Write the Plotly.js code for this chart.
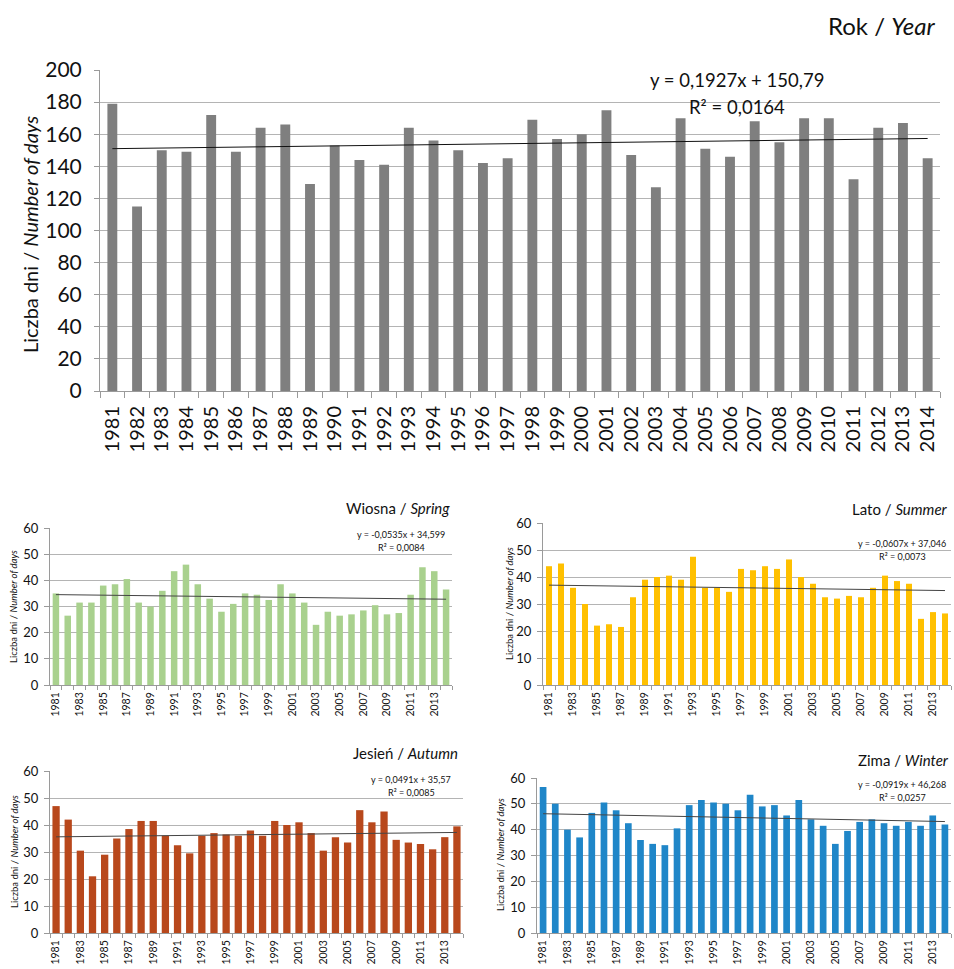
<!DOCTYPE html>
<html><head><meta charset="utf-8">
<script src="https://cdn.plot.ly/plotly-3.0.1.min.js"></script>
<style>html,body{margin:0;padding:0;background:#fff}#chart{width:954px;height:969px}</style>
</head><body><div id="chart"></div>
<script>
// ---------- DATA ----------
const years = [1981,1982,1983,1984,1985,1986,1987,1988,1989,1990,1991,1992,1993,1994,1995,1996,1997,
               1998,1999,2000,2001,2002,2003,2004,2005,2006,2007,2008,2009,2010,2011,2012,2013,2014];
const yearValues   = [179,115,150,149,172,149,164,166,129,153,144,141,164,156,150,142,145,
                      169,157,160,175,147,127,170,151,146,168,155,170,170,132,164,167,145];
const springValues = [35,26.5,31.5,31.5,38,38.5,40.5,31.5,30,36,43.5,46,38.5,33,28,31,35,
                      34.5,32.5,38.5,35,31.5,23,28,26.5,27,28.5,30.5,27,27.5,34.5,45,43.5,36.5];
const summerValues = [44,45,36,30,22,22.5,21.5,32.5,39,40,40.5,39,47.5,36,36,34.5,43,
                      42.5,44,43,46.5,40,37.5,32.5,32,33,32.5,36,40.5,38.5,37.5,24.5,27,26.5];
const autumnValues = [47,42,30.5,21,29,35,38.5,41.5,41.5,36,32.5,29.5,36,37,36.5,36,38,
                      36,41.5,40,41,37,30.5,35.5,33.5,45.5,41,45,34.5,33.5,33,31,35.5,39.5];
const winterValues = [56.5,50,40,37,46.5,50.5,47.5,42.5,36,34.5,34,40.5,49.5,51.5,50.5,50,47.5,
                      53.5,49,49.5,45.5,51.5,44,41.5,34.5,39.5,43,44,42.5,41.5,43,41.5,45.5,42];
const trendSlopes     = [0.1927, -0.0535, -0.0607, 0.0491, -0.0919];
const trendIntercepts = [150.79, 34.599, 37.046, 35.57, 46.268];
const equationLabels  = ["y = 0,1927x + 150,79","y = -0,0535x + 34,599","y = -0,0607x + 37,046",
                         "y = 0,0491x + 35,57","y = -0,0919x + 46,268"];
const r2Labels        = ["R² = 0,0164","R² = 0,0084","R² = 0,0073","R² = 0,0085","R² = 0,0257"];
const panelTitles     = ["Rok / <i>Year</i>","Wiosna / <i>Spring</i>","Lato / <i>Summer</i>",
                         "Jesień / <i>Autumn</i>","Zima / <i>Winter</i>"];
const yAxisTitle      = "Liczba dni / <i>Number of days</i>";

// ---------- LAYOUT ----------
const W = 954, H = 969;
const FONT = "Lato, 'Open Sans', sans-serif";
const fx = p => p / W, fy = p => 1 - p / H;

const seriesList = [yearValues, springValues, summerValues, autumnValues, winterValues];
const colors = ["#7f7f7f", "#a9d18e", "#ffc000", "#b8481c", "#1f86c8"];
// pixel boxes: [left, right, top, bottom]
const boxes = [[100,940,70,391],[50,452,528,685],[543,951,523,685],[50,463,771,933],[537,951,778,933]];
const yMax = [200,60,60,60,60];
const yDtick = [20,10,10,10,10];
const bargaps = [0.6,0.45,0.5,0.4,0.45];
const big = [true,false,false,false,false];
// annotation positions (px)
const titlePos = [[938,25],[452,508],[950,509],[460,753],[951,760]];
const eqPos = [[737,80,107],[401,534,547],[902,543,556],[411,779,792],[902,784,797]];
const yTitlePos = [[30,235],[13,607],[509,604],[14,852],[500,855]];

const yearLabels = years.map(String);
const traces = [];
const layout = {
  width: W, height: H, margin: {l:0,r:0,t:0,b:0},
  paper_bgcolor: "#fff", plot_bgcolor: "#fff",
  font: {family: FONT, color: "#222"},
  showlegend: false, annotations: []
};

for (let i = 0; i < 5; i++) {
  const sx = i === 0 ? "" : String(i + 1);
  const xa = "x" + sx, ya = "y" + sx;
  traces.push({type: "bar", x: yearLabels, y: seriesList[i], xaxis: xa, yaxis: ya,
               marker: {color: colors[i]}, width: 1 - bargaps[i], hoverinfo: "x+y"});
  traces.push({type: "scatter", mode: "lines", x: yearLabels,
               y: years.map((_, k) => trendSlopes[i] * (k + 1) + trendIntercepts[i]),
               xaxis: xa, yaxis: ya, line: {color: i === 0 ? "#111" : "#444", width: 1},
               hoverinfo: "skip"});
  const b = boxes[i];
  const tickText = big[i] ? yearLabels : yearLabels.map((s, k) => k % 2 === 0 ? s : "");
  layout["xaxis" + sx] = {
    domain: [fx(b[0]), fx(b[1])], anchor: ya, type: "category",
    tickmode: "array", tickvals: yearLabels, ticktext: tickText,
    tickson: "boundaries", ticks: "outside", ticklen: big[i] ? 6 : 4, tickcolor: "#9a9a9a",
    showline: true, linecolor: "#9a9a9a", linewidth: 1, showgrid: false, zeroline: false,
    tickangle: -90, ticklabelstandoff: big[i] ? 6 : 2,
    tickfont: {family: FONT, size: big[i] ? 20 : 10.5, color: "#111"},
    fixedrange: true
  };
  layout["yaxis" + sx] = {
    domain: [fy(b[3]), fy(b[2])], anchor: xa, range: [0, yMax[i]], dtick: yDtick[i],
    showgrid: true, gridcolor: "#b4b4b4", gridwidth: 1,
    showline: true, linecolor: "#9a9a9a", ticks: "outside", ticklen: 5, tickcolor: "#9a9a9a",
    zeroline: false, ticklabelstandoff: big[i] ? 8 : 3,
    tickfont: {family: FONT, size: big[i] ? 21 : 13, color: "#111"},
    fixedrange: true
  };

  layout.annotations.push({xref: "paper", yref: "paper", x: fx(titlePos[i][0]), y: fy(titlePos[i][1]),
    xanchor: "right", yanchor: "middle", showarrow: false, text: panelTitles[i],
    font: {family: FONT, size: big[i] ? 24 : 15, color: "#111"}});
  layout.annotations.push({xref: "paper", yref: "paper", x: fx(eqPos[i][0]), y: fy(eqPos[i][1]),
    xanchor: "center", yanchor: "middle", showarrow: false, text: equationLabels[i],
    font: {family: FONT, size: big[i] ? 18.5 : 9, color: "#111"}});
  layout.annotations.push({xref: "paper", yref: "paper", x: fx(eqPos[i][0]), y: fy(eqPos[i][2]),
    xanchor: "center", yanchor: "middle", showarrow: false, text: r2Labels[i],
    font: {family: FONT, size: big[i] ? 18.5 : 9, color: "#111"}});
  layout.annotations.push({xref: "paper", yref: "paper", x: fx(yTitlePos[i][0]), y: fy(yTitlePos[i][1]),
    xanchor: "center", yanchor: "middle", showarrow: false, textangle: -90, text: yAxisTitle,
    font: {family: FONT, size: big[i] ? 20 : 9.5, color: "#111"}});
}

Plotly.newPlot("chart", traces, layout, {displayModeBar: false, staticPlot: true});
</script></body></html>
